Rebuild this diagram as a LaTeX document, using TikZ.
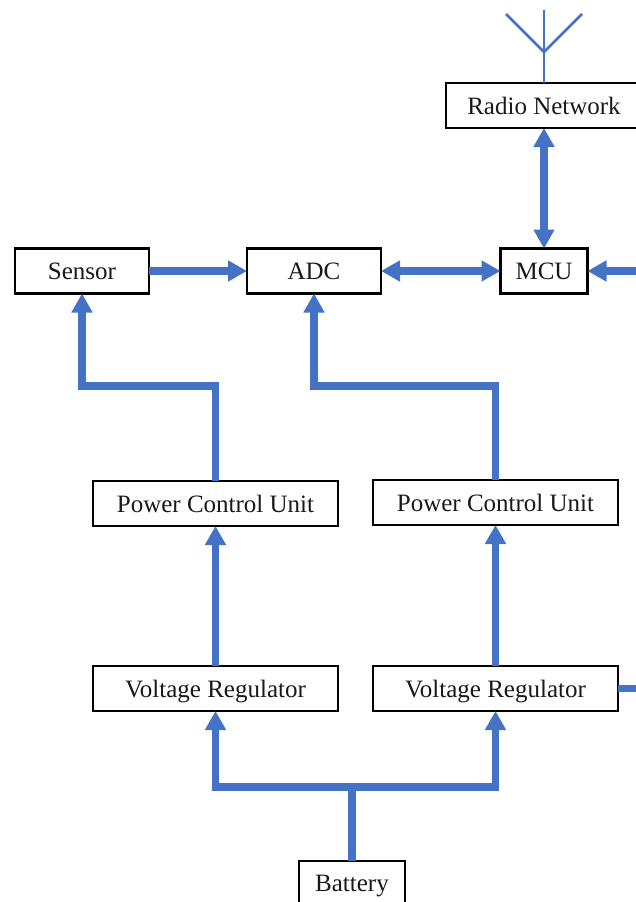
\documentclass[tikz,border=0pt]{standalone}
\usepackage{fontspec}
\setmainfont{Liberation Serif}
\usetikzlibrary{arrows.meta,calc}
\definecolor{wire}{HTML}{4472C4}
\tikzset{
  lbl/.style={font=\fontsize{25}{28}\selectfont,text=black!90,text height=17pt,text depth=0pt,inner sep=0pt,outer sep=0pt},
  blk/.style={lbl,draw=black,line width=2.4pt,fill=white,minimum height=45pt},
  wirelink/.style={draw=wire,line width=7.4pt,line join=miter},
  oneway/.style={wirelink,-{Triangle[length=19pt,width=20pt]}},
  twoway/.style={wirelink,{Triangle[length=19pt,width=20pt]}-{Triangle[length=19pt,width=20pt]}},
  aerial/.style={draw=wire,line width=2.8pt}
}
\begin{document}
\begin{tikzpicture}[x=1pt,y=-1pt]
\useasboundingbox (0,0) rectangle (635,902);
\node[blk,minimum width=134pt] (sensor) at (82,271) {Sensor};
\node[blk,minimum width=134pt] (adc) at (314,271) {ADC};
\node[blk,minimum width=87pt] (mcu) at (544,271) {MCU};
\node[blk,minimum width=196pt] (radio) at (544,105.5) {Radio Network};
\node[blk,minimum width=245pt] (pcua) at (215.5,503.5) {Power Control Unit};
\node[blk,minimum width=245pt] (pcub) at (495.5,502.5) {Power Control Unit};
\node[blk,minimum width=245pt] (vra) at (215.5,688.5) {Voltage Regulator};
\node[blk,minimum width=245pt] (vrb) at (495.5,688.5) {Voltage Regulator};
\node[blk,minimum width=106pt,minimum height=50pt,anchor=north] (batt) at (352,861) {};
\node[lbl] (battlabel) at (352,883) {Battery};
\coordinate (mcuin) at (640,271);
\coordinate (vrout) at (640,688.5);
\coordinate (top) at (544,10);
\coordinate (fork) at (544,52);
\coordinate (tipl) at (506,14);
\coordinate (tipr) at (582,14);
\coordinate (join) at (352,787);
\coordinate (bend) at (0,386);

\path[aerial] (radio.north) -- (top);
\path[aerial] (tipl) -- (fork) -- (tipr);
\path[twoway] (radio.south) -- (mcu.north);
\path[oneway] (sensor.east) -- (adc.west);
\path[twoway] (adc.east) -- (mcu.west);
\path[oneway] (mcuin) -- (mcu.east);
\path[oneway] (pcua.north) -- (pcua.north |- bend) -- (sensor.south |- bend) -- (sensor.south);
\path[oneway] (pcub.north) -- (pcub.north |- bend) -- (adc.south |- bend) -- (adc.south);
\path[oneway] (vra.north) -- (pcua.south);
\path[oneway] (vrb.north) -- (pcub.south);
\path[oneway] (join) -| (vra.south);
\path[oneway] (join) -| (vrb.south);
\path[wirelink] (batt.north) -- (join);
\path[wirelink] (vrb.east) -- (vrout);
\end{tikzpicture}
\end{document}
